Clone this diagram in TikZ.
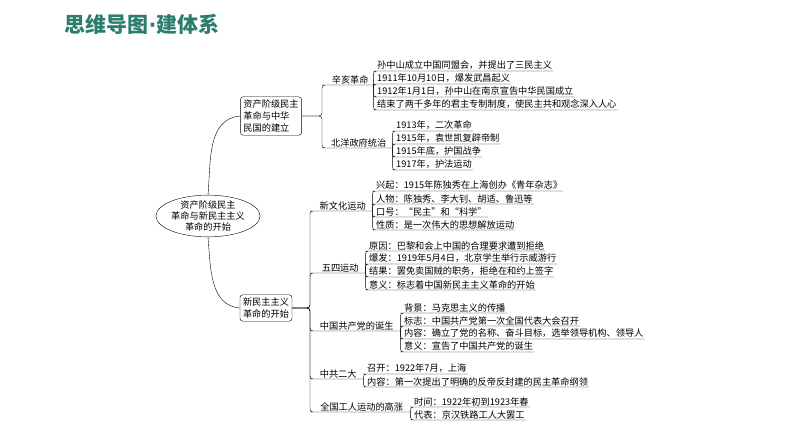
\documentclass[tikz,border=0pt]{standalone}
\usepackage{fontspec}
\setmainfont{Noto Sans CJK SC}
\newfontfamily\dotfont{DejaVu Sans}
\usetikzlibrary{shapes.geometric}
\definecolor{titlegreen}{RGB}{45,125,110}
\tikzstyle{leaf}=[anchor=south west,inner sep=1pt,font=\fontsize{9.2}{10}\selectfont]
\tikzstyle{lbl}=[anchor=south west,inner sep=1pt,align=left,font=\fontsize{9.2}{10}\selectfont]
\tikzstyle{box}=[draw,rounded corners=3pt,align=left,inner sep=3pt,font=\fontsize{9.2}{12}\selectfont]
\tikzstyle{br}=[rounded corners=3pt,thin]

\begin{document}
\begin{tikzpicture}[x=1pt,y=-1pt]
\useasboundingbox (0,0) rectangle (794,446);
\node[text=titlegreen,font=\fontsize{21}{24}\bfseries\selectfont] (title) at (142,24) {思维导图{\dotfont\bfseries·}建体系};
% centre and main branches
\node[ellipse,draw,inner sep=0pt,minimum width=82pt,minimum height=34pt,align=center,
  font=\fontsize{9.2}{10.5}\selectfont] (root) at (208,216) {资产阶级民主\\革命与新民主主义\\革命的开始};
\node[box] (A) at (271,116) {资产阶级民主\\革命与中华\\民国的建立};
\node[box,align=center] (B) at (266,308) {新民主主义\\革命的开始};
\draw (root.north) to[out=85,in=185] (A.west);
\draw (root.south) to[out=-85,in=175] (B.west);

% first part
\node[lbl,minimum width=48pt] (xh) at (325,85) {\ 辛亥革命};
\node[lbl,minimum width=67pt] (by) at (325,148) {北洋政府统治};
\foreach \n in {xh,by} \draw[br] (A.east) -- (322,116) |- (\n.south west) -- (\n.south east);
\node[leaf] (xh1) at (376,71) {孙中山成立中国同盟会，并提出了三民主义};
\node[leaf] (xh2) at (376,84) {1911年10月10日，爆发武昌起义};
\node[leaf] (xh3) at (376,97) {1912年1月1日，孙中山在南京宣告中华民国成立};
\node[leaf] (xh4) at (376,110) {结束了两千多年的君主专制制度，使民主共和观念深入人心};
\foreach \n in {xh1,xh2,xh3,xh4} \draw[br] (xh.south east) |- (\n.south west) -- (\n.south east);
\node[leaf] (by1) at (395,131) {1913年，二次革命};
\node[leaf] (by2) at (395,144) {1915年，袁世凯复辟帝制};
\node[leaf] (by3) at (395,157) {1915年底，护国战争};
\node[leaf] (by4) at (395,170) {1917年，护法运动};
\foreach \n in {by1,by2,by3,by4} \draw[br] (by.south east) |- (\n.south west) -- (\n.south east);

% second part
\node[lbl,minimum width=59pt] (xw) at (313,211) {新文化运动};
\node[lbl,minimum width=52pt] (ws) at (313,273) {\ 五四运动};
\node[lbl,minimum width=87pt] (zg) at (313,331) {中国共产党的诞生};
\node[lbl,minimum width=50pt] (ed) at (313,379) {中共二大};
\node[lbl,minimum width=97pt] (gr) at (313,412) {全国工人运动的高涨};
\foreach \n in {xw,ws,zg,ed,gr} \draw[br] (B.east) -- (310,308) |- (\n.south west) -- (\n.south east);
\node[leaf] (xw1) at (375,191) {兴起：1915年陈独秀在上海创办《青年杂志》};
\node[leaf] (xw2) at (375,204) {人物：陈独秀、李大钊、胡适、鲁迅等};
\node[leaf] (xw3) at (375,217) {口号：“民主”和“科学”};
\node[leaf] (xw4) at (375,230) {性质：是一次伟大的思想解放运动};
\foreach \n in {xw1,xw2,xw3,xw4} \draw[br] (xw.south east) |- (\n.south west) -- (\n.south east);
\node[leaf] (ws1) at (368,251) {原因：巴黎和会上中国的合理要求遭到拒绝};
\node[leaf] (ws2) at (368,264) {爆发：1919年5月4日，北京学生举行示威游行};
\node[leaf] (ws3) at (368,277) {结果：罢免卖国贼的职务，拒绝在和约上签字};
\node[leaf] (ws4) at (368,290) {意义：标志着中国新民主主义革命的开始};
\foreach \n in {ws1,ws2,ws3,ws4} \draw[br] (ws.south east) |- (\n.south west) -- (\n.south east);
\node[leaf] (zg1) at (403,313) {背景：马克思主义的传播};
\node[leaf] (zg2) at (403,326) {标志：中国共产党第一次全国代表大会召开};
\node[leaf] (zg3) at (403,339) {内容：确立了党的名称、奋斗目标，选举领导机构、领导人};
\node[leaf] (zg4) at (403,352) {意义：宣告了中国共产党的诞生};
\foreach \n in {zg1,zg2,zg3,zg4} \draw[br] (zg.south east) |- (\n.south west) -- (\n.south east);
\node[leaf] (ed1) at (366,374) {召开：1922年7月，上海};
\node[leaf] (ed2) at (366,387) {内容：第一次提出了明确的反帝反封建的民主革命纲领};
\foreach \n in {ed1,ed2} \draw[br] (ed.south east) |- (\n.south west) -- (\n.south east);
\node[leaf] (gr1) at (413,407) {时间：1922年初到1923年春};
\node[leaf] (gr2) at (413,420) {代表：京汉铁路工人大罢工};
\foreach \n in {gr1,gr2} \draw[br] (gr.south east) |- (\n.south west) -- (\n.south east);
\end{tikzpicture}
\end{document}
